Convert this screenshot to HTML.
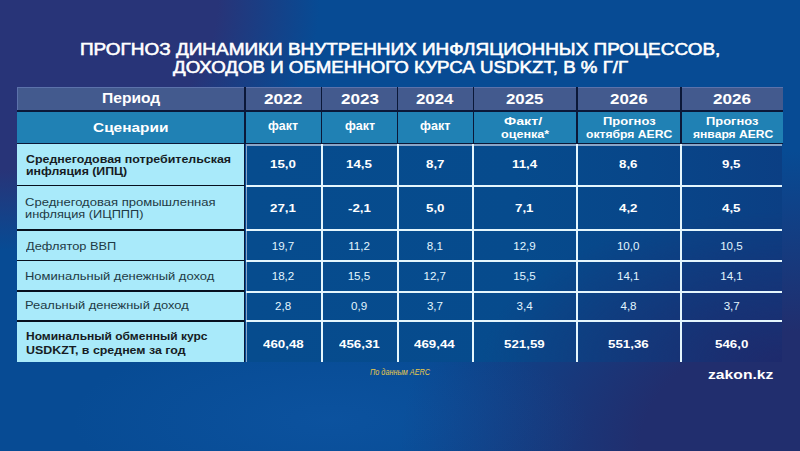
<!DOCTYPE html>
<html><head><meta charset="utf-8">
<style>
html,body{margin:0;padding:0;}
body{width:800px;height:451px;overflow:hidden;position:relative;font-family:"Liberation Sans",sans-serif;
background:#0a4a92;}
.bg{position:absolute;left:0;top:0;width:800px;height:451px;
background:
 radial-gradient(ellipse 260px 90px at 330px 420px, rgba(30,110,200,0.2), rgba(30,110,200,0) 100%),
 radial-gradient(ellipse 320px 250px at 0 0, #283478 0%, #283478 68%, rgba(40,52,120,0) 100%),
 radial-gradient(ellipse 400px 300px at 100% 100%, #212e6e 0%, #212e6e 40%, rgba(33,46,110,0.5) 70%, rgba(33,46,110,0) 100%),
 #074b94;}
.r{position:absolute;}
.t{position:absolute;white-space:nowrap;transform-origin:0 0;}
</style></head><body>
<div class="bg"></div>
<!-- table header -->
<div class="r" style="left:17px;top:87px;width:766px;height:23.5px;background:#435a8e;box-shadow:inset 1px 1px 0 rgba(140,160,225,0.35)"></div>
<div class="r" style="left:17px;top:111px;width:766px;height:32.5px;background:#2081b4"></div>
<div class="r" style="left:17px;top:110.1px;width:766px;height:1.5px;background:#0b1838"></div>
<div class="r" style="left:17px;top:142.7px;width:766px;height:1.6px;background:#0b1838"></div>
<!-- header vlines -->
<div class="r" style="left:244.2px;top:87px;width:1.5px;height:57px;background:#0b1838"></div>
<div class="r" style="left:320.8px;top:87px;width:1.5px;height:57px;background:#0b1838"></div>
<div class="r" style="left:396.8px;top:87px;width:1.5px;height:57px;background:#0b1838"></div>
<div class="r" style="left:472.8px;top:87px;width:1.5px;height:57px;background:#0b1838"></div>
<div class="r" style="left:576.3px;top:87px;width:1.5px;height:57px;background:#0b1838"></div>
<div class="r" style="left:680.3px;top:87px;width:1.5px;height:57px;background:#0b1838"></div>
<!-- left column -->
<div class="r" style="left:17px;top:144.3px;width:227.2px;height:217.7px;background:#a9eafa"></div>
<div class="r" style="left:17px;top:184.6px;width:227.2px;height:1.5px;background:#06101e"></div>
<div class="r" style="left:17px;top:229px;width:227.2px;height:1.5px;background:#06101e"></div>
<div class="r" style="left:17px;top:259.5px;width:227.2px;height:1.5px;background:#06101e"></div>
<div class="r" style="left:17px;top:290.2px;width:227.2px;height:1.5px;background:#06101e"></div>
<div class="r" style="left:17px;top:320px;width:227.2px;height:1.5px;background:#06101e"></div>
<div class="r" style="left:244.2px;top:144px;width:1.3px;height:218px;background:#0b1838"></div>
<!-- data area -->
<div class="r" style="left:245.5px;top:144.2px;width:536.3px;height:217.8px;background:#8aa6c8"></div>
<div class="r" style="left:246.6px;top:146px;width:535.2px;height:216px;
background:radial-gradient(ellipse 300px 150px at 100% 100%, rgba(30,42,108,1) 0%, rgba(30,42,108,0.6) 40%, rgba(30,42,108,0) 100%),
linear-gradient(90deg, #064c8e 0%, #064b8d 50%, #084689 75%, #0b3f84 100%)"></div>
<!-- data white grid -->
<div class="r" style="left:321px;top:144.3px;width:2px;height:217.7px;background:#e4f6fd"></div>
<div class="r" style="left:396.6px;top:144.3px;width:2px;height:217.7px;background:#e4f6fd"></div>
<div class="r" style="left:472.2px;top:144.3px;width:2px;height:217.7px;background:#e4f6fd"></div>
<div class="r" style="left:576px;top:144.3px;width:2px;height:217.7px;background:#e4f6fd"></div>
<div class="r" style="left:680px;top:144.3px;width:2px;height:217.7px;background:#e4f6fd"></div>
<div class="r" style="left:245.5px;top:185px;width:536.3px;height:2px;background:#e4f6fd"></div>
<div class="r" style="left:245.5px;top:228.8px;width:536.3px;height:2px;background:#e4f6fd"></div>
<div class="r" style="left:245.5px;top:260.2px;width:536.3px;height:2px;background:#e4f6fd"></div>
<div class="r" style="left:245.5px;top:290.6px;width:536.3px;height:2px;background:#e4f6fd"></div>
<div class="r" style="left:245.5px;top:319.8px;width:536.3px;height:2px;background:#e4f6fd"></div>
<div class="t" style="left:79.73px;top:41.01px;font-size:17.15px;line-height:17.15px;font-weight:normal;font-style:normal;color:#ffffff;transform:scaleX(1.1049);-webkit-text-stroke:0.6px #fff;">ПРОГНОЗ ДИНАМИКИ ВНУТРЕННИХ ИНФЛЯЦИОННЫХ ПРОЦЕССОВ,</div>
<div class="t" style="left:172.86px;top:59.41px;font-size:17.30px;line-height:17.30px;font-weight:normal;font-style:normal;color:#ffffff;transform:scaleX(1.0819);-webkit-text-stroke:0.6px #fff;">ДОХОДОВ И ОБМЕННОГО КУРСА USDKZT, В % Г/Г</div>
<div class="t" style="left:102.25px;top:91.22px;font-size:14.10px;line-height:14.10px;font-weight:bold;font-style:normal;color:#ffffff;transform:scaleX(1.1064);">Период</div>
<div class="t" style="left:264.40px;top:91.90px;font-size:14.39px;line-height:14.39px;font-weight:bold;font-style:normal;color:#ffffff;transform:scaleX(1.1959);">2022</div>
<div class="t" style="left:340.65px;top:91.90px;font-size:14.39px;line-height:14.39px;font-weight:bold;font-style:normal;color:#ffffff;transform:scaleX(1.1865);">2023</div>
<div class="t" style="left:415.66px;top:91.90px;font-size:14.39px;line-height:14.39px;font-weight:bold;font-style:normal;color:#ffffff;transform:scaleX(1.1702);">2024</div>
<div class="t" style="left:506.16px;top:91.90px;font-size:14.39px;line-height:14.39px;font-weight:bold;font-style:normal;color:#ffffff;transform:scaleX(1.1695);">2025</div>
<div class="t" style="left:610.01px;top:91.90px;font-size:14.39px;line-height:14.39px;font-weight:bold;font-style:normal;color:#ffffff;transform:scaleX(1.1752);">2026</div>
<div class="t" style="left:713.10px;top:91.90px;font-size:14.39px;line-height:14.39px;font-weight:bold;font-style:normal;color:#ffffff;transform:scaleX(1.1881);">2026</div>
<div class="t" style="left:92.68px;top:120.71px;font-size:13.52px;line-height:13.52px;font-weight:bold;font-style:normal;color:#ffffff;transform:scaleX(1.1410);">Сценарии</div>
<div class="t" style="left:268.25px;top:120.01px;font-size:12.68px;line-height:12.68px;font-weight:bold;font-style:normal;color:#ffffff;transform:scaleX(0.9760);">факт</div>
<div class="t" style="left:344.50px;top:120.01px;font-size:12.68px;line-height:12.68px;font-weight:bold;font-style:normal;color:#ffffff;transform:scaleX(0.9794);">факт</div>
<div class="t" style="left:419.50px;top:120.01px;font-size:12.68px;line-height:12.68px;font-weight:bold;font-style:normal;color:#ffffff;transform:scaleX(0.9878);">факт</div>
<div class="t" style="left:503.90px;top:115.90px;font-size:10.61px;line-height:10.61px;font-weight:bold;font-style:normal;color:#ffffff;transform:scaleX(1.3425);">Факт/</div>
<div class="t" style="left:500.50px;top:129.90px;font-size:10.22px;line-height:10.22px;font-weight:bold;font-style:normal;color:#ffffff;transform:scaleX(1.2326);">оценка*</div>
<div class="t" style="left:602.62px;top:116.11px;font-size:11.05px;line-height:11.05px;font-weight:bold;font-style:normal;color:#ffffff;transform:scaleX(1.1738);">Прогноз</div>
<div class="t" style="left:586.01px;top:129.21px;font-size:11.05px;line-height:11.05px;font-weight:bold;font-style:normal;color:#ffffff;transform:scaleX(1.1001);">октября AERC</div>
<div class="t" style="left:706.13px;top:116.11px;font-size:11.05px;line-height:11.05px;font-weight:bold;font-style:normal;color:#ffffff;transform:scaleX(1.1681);">Прогноз</div>
<div class="t" style="left:692.50px;top:129.21px;font-size:11.05px;line-height:11.05px;font-weight:bold;font-style:normal;color:#ffffff;transform:scaleX(1.0956);">января AERC</div>
<div class="t" style="left:26.00px;top:153.72px;font-size:10.61px;line-height:10.61px;font-weight:bold;font-style:normal;color:#161c24;transform:scaleX(1.1712);">Среднегодовая потребительская</div>
<div class="t" style="left:25.64px;top:166.21px;font-size:10.60px;line-height:10.60px;font-weight:bold;font-style:normal;color:#161c24;transform:scaleX(1.1629);">инфляция (ИПЦ)</div>
<div class="t" style="left:25.35px;top:195.60px;font-size:11.77px;line-height:11.77px;font-weight:normal;font-style:normal;color:#1f3a45;transform:scaleX(1.1081);">Среднегодовая промышленная</div>
<div class="t" style="left:25.10px;top:208.90px;font-size:11.20px;line-height:11.20px;font-weight:normal;font-style:normal;color:#1f3a45;transform:scaleX(1.1423);">инфляция (ИЦППП)</div>
<div class="t" style="left:26.40px;top:240.21px;font-size:11.63px;line-height:11.63px;font-weight:normal;font-style:normal;color:#1f3a45;transform:scaleX(1.1018);">Дефлятор ВВП</div>
<div class="t" style="left:25.43px;top:269.60px;font-size:11.77px;line-height:11.77px;font-weight:normal;font-style:normal;color:#1f3a45;transform:scaleX(1.1028);">Номинальный денежный доход</div>
<div class="t" style="left:25.44px;top:300.21px;font-size:11.48px;line-height:11.48px;font-weight:normal;font-style:normal;color:#1f3a45;transform:scaleX(1.1241);">Реальный денежный доход</div>
<div class="t" style="left:26.49px;top:331.20px;font-size:11.48px;line-height:11.48px;font-weight:bold;font-style:normal;color:#161c24;transform:scaleX(1.0469);">Номинальный обменный курс</div>
<div class="t" style="left:26.26px;top:344.60px;font-size:11.34px;line-height:11.34px;font-weight:bold;font-style:normal;color:#161c24;transform:scaleX(1.0949);">USDKZT, в среднем за год</div>
<div class="t" style="left:270.03px;top:158.82px;font-size:11.40px;line-height:11.40px;font-weight:bold;font-style:normal;color:#ffffff;transform:scaleX(1.1700);">15,0</div>
<div class="t" style="left:345.95px;top:158.82px;font-size:11.40px;line-height:11.40px;font-weight:bold;font-style:normal;color:#ffffff;transform:scaleX(1.1700);">14,5</div>
<div class="t" style="left:425.70px;top:158.82px;font-size:11.40px;line-height:11.40px;font-weight:bold;font-style:normal;color:#ffffff;transform:scaleX(1.1700);">8,7</div>
<div class="t" style="left:511.66px;top:158.82px;font-size:11.40px;line-height:11.40px;font-weight:bold;font-style:normal;color:#ffffff;transform:scaleX(1.1700);">11,4</div>
<div class="t" style="left:619.15px;top:158.82px;font-size:11.40px;line-height:11.40px;font-weight:bold;font-style:normal;color:#ffffff;transform:scaleX(1.1700);">8,6</div>
<div class="t" style="left:722.33px;top:158.82px;font-size:11.40px;line-height:11.40px;font-weight:bold;font-style:normal;color:#ffffff;transform:scaleX(1.1700);">9,5</div>
<div class="t" style="left:270.13px;top:203.23px;font-size:11.40px;line-height:11.40px;font-weight:bold;font-style:normal;color:#ffffff;transform:scaleX(1.1700);">27,1</div>
<div class="t" style="left:347.58px;top:203.23px;font-size:11.40px;line-height:11.40px;font-weight:bold;font-style:normal;color:#ffffff;transform:scaleX(1.1700);">-2,1</div>
<div class="t" style="left:425.70px;top:203.23px;font-size:11.40px;line-height:11.40px;font-weight:bold;font-style:normal;color:#ffffff;transform:scaleX(1.1700);">5,0</div>
<div class="t" style="left:515.28px;top:203.23px;font-size:11.40px;line-height:11.40px;font-weight:bold;font-style:normal;color:#ffffff;transform:scaleX(1.1700);">7,1</div>
<div class="t" style="left:619.28px;top:203.23px;font-size:11.40px;line-height:11.40px;font-weight:bold;font-style:normal;color:#ffffff;transform:scaleX(1.1700);">4,2</div>
<div class="t" style="left:722.46px;top:203.23px;font-size:11.40px;line-height:11.40px;font-weight:bold;font-style:normal;color:#ffffff;transform:scaleX(1.1700);">4,5</div>
<div class="t" style="left:271.72px;top:239.79px;font-size:11.60px;line-height:11.60px;font-weight:normal;font-style:normal;color:#e2f6ff;transform:scaleX(1.0000);">19,7</div>
<div class="t" style="left:348.16px;top:239.79px;font-size:11.60px;line-height:11.60px;font-weight:normal;font-style:normal;color:#e2f6ff;transform:scaleX(1.0000);">11,2</div>
<div class="t" style="left:426.87px;top:239.79px;font-size:11.60px;line-height:11.60px;font-weight:normal;font-style:normal;color:#e2f6ff;transform:scaleX(1.0000);">8,1</div>
<div class="t" style="left:513.19px;top:239.79px;font-size:11.60px;line-height:11.60px;font-weight:normal;font-style:normal;color:#e2f6ff;transform:scaleX(1.0000);">12,9</div>
<div class="t" style="left:616.90px;top:239.79px;font-size:11.60px;line-height:11.60px;font-weight:normal;font-style:normal;color:#e2f6ff;transform:scaleX(1.0000);">10,0</div>
<div class="t" style="left:720.17px;top:239.79px;font-size:11.60px;line-height:11.60px;font-weight:normal;font-style:normal;color:#e2f6ff;transform:scaleX(1.0000);">10,5</div>
<div class="t" style="left:271.72px;top:270.29px;font-size:11.60px;line-height:11.60px;font-weight:normal;font-style:normal;color:#e2f6ff;transform:scaleX(1.0000);">18,2</div>
<div class="t" style="left:347.67px;top:270.29px;font-size:11.60px;line-height:11.60px;font-weight:normal;font-style:normal;color:#e2f6ff;transform:scaleX(1.0000);">15,5</div>
<div class="t" style="left:423.47px;top:270.29px;font-size:11.60px;line-height:11.60px;font-weight:normal;font-style:normal;color:#e2f6ff;transform:scaleX(1.0000);">12,7</div>
<div class="t" style="left:513.17px;top:270.29px;font-size:11.60px;line-height:11.60px;font-weight:normal;font-style:normal;color:#e2f6ff;transform:scaleX(1.0000);">15,5</div>
<div class="t" style="left:616.96px;top:270.29px;font-size:11.60px;line-height:11.60px;font-weight:normal;font-style:normal;color:#e2f6ff;transform:scaleX(1.0000);">14,1</div>
<div class="t" style="left:720.21px;top:270.29px;font-size:11.60px;line-height:11.60px;font-weight:normal;font-style:normal;color:#e2f6ff;transform:scaleX(1.0000);">14,1</div>
<div class="t" style="left:275.04px;top:299.69px;font-size:11.60px;line-height:11.60px;font-weight:normal;font-style:normal;color:#e2f6ff;transform:scaleX(1.0000);">2,8</div>
<div class="t" style="left:351.12px;top:299.69px;font-size:11.60px;line-height:11.60px;font-weight:normal;font-style:normal;color:#e2f6ff;transform:scaleX(1.0000);">0,9</div>
<div class="t" style="left:426.91px;top:299.69px;font-size:11.60px;line-height:11.60px;font-weight:normal;font-style:normal;color:#e2f6ff;transform:scaleX(1.0000);">3,7</div>
<div class="t" style="left:516.53px;top:299.69px;font-size:11.60px;line-height:11.60px;font-weight:normal;font-style:normal;color:#e2f6ff;transform:scaleX(1.0000);">3,4</div>
<div class="t" style="left:620.45px;top:299.69px;font-size:11.60px;line-height:11.60px;font-weight:normal;font-style:normal;color:#e2f6ff;transform:scaleX(1.0000);">4,8</div>
<div class="t" style="left:723.66px;top:299.69px;font-size:11.60px;line-height:11.60px;font-weight:normal;font-style:normal;color:#e2f6ff;transform:scaleX(1.0000);">3,7</div>
<div class="t" style="left:262.86px;top:338.92px;font-size:11.40px;line-height:11.40px;font-weight:bold;font-style:normal;color:#ffffff;transform:scaleX(1.1700);">460,48</div>
<div class="t" style="left:338.84px;top:338.92px;font-size:11.40px;line-height:11.40px;font-weight:bold;font-style:normal;color:#ffffff;transform:scaleX(1.1700);">456,31</div>
<div class="t" style="left:414.44px;top:338.92px;font-size:11.40px;line-height:11.40px;font-weight:bold;font-style:normal;color:#ffffff;transform:scaleX(1.1700);">469,44</div>
<div class="t" style="left:504.29px;top:338.92px;font-size:11.40px;line-height:11.40px;font-weight:bold;font-style:normal;color:#ffffff;transform:scaleX(1.1700);">521,59</div>
<div class="t" style="left:608.04px;top:338.92px;font-size:11.40px;line-height:11.40px;font-weight:bold;font-style:normal;color:#ffffff;transform:scaleX(1.1700);">551,36</div>
<div class="t" style="left:715.03px;top:338.92px;font-size:11.40px;line-height:11.40px;font-weight:bold;font-style:normal;color:#ffffff;transform:scaleX(1.1700);">546,0</div>
<div class="t" style="left:369.78px;top:369.21px;font-size:8.14px;line-height:8.14px;font-weight:normal;font-style:italic;color:#e8c94c;transform:scaleX(0.8968);">По данным AERC</div>
<div class="t" style="left:708.12px;top:368.71px;font-size:12.50px;line-height:12.50px;font-weight:bold;font-style:normal;color:#ffffff;transform:scaleX(1.2560);">zakon.kz</div>
</body></html>
